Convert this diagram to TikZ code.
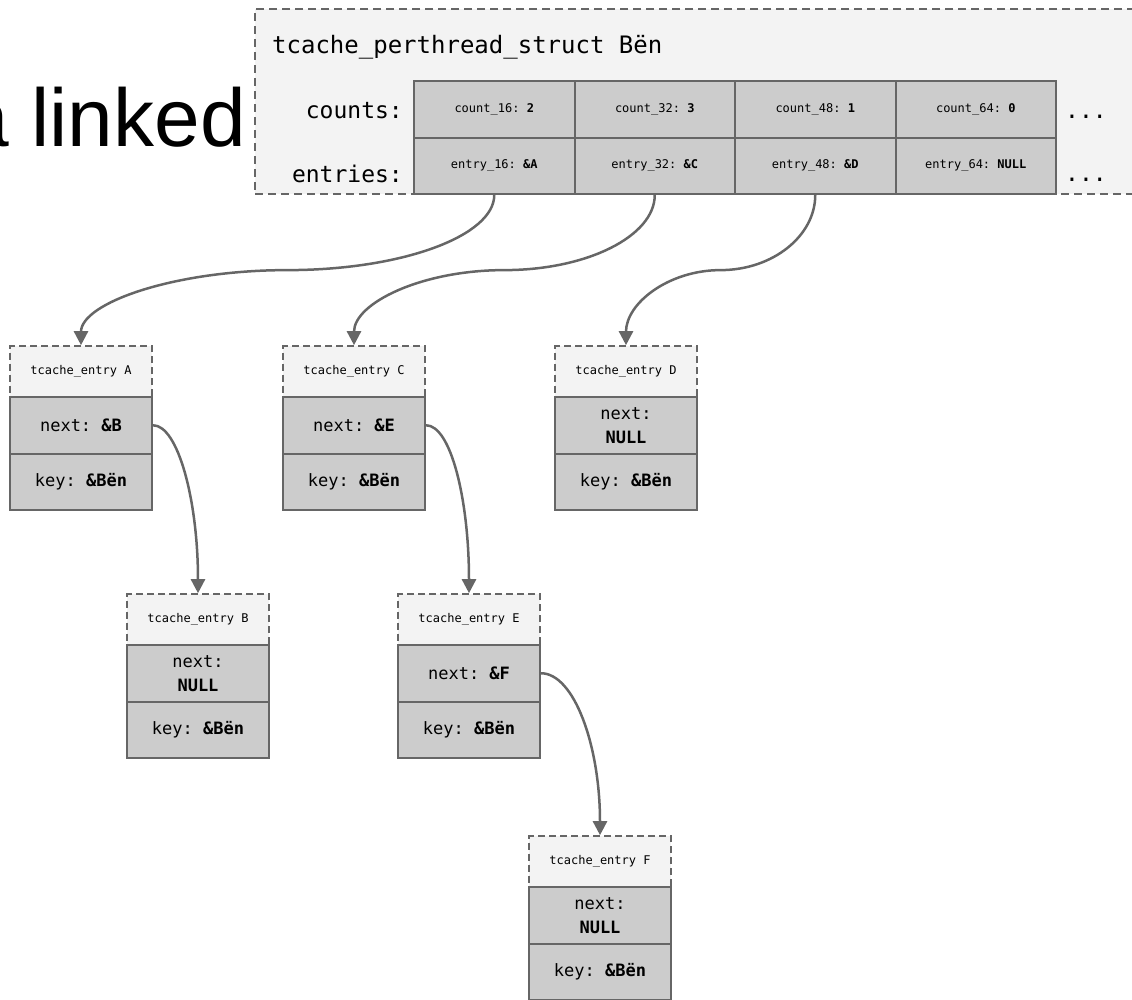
\documentclass[tikz,border=0pt]{standalone}
\usepackage{fontspec}
\setmainfont{Liberation Sans}
\setmonofont{DejaVu Sans Mono}
\usetikzlibrary{arrows.meta,calc}

\definecolor{edgegray}{HTML}{666666}
\definecolor{cellgray}{HTML}{CCCCCC}
\definecolor{palegray}{HTML}{F3F3F3}

\tikzset{
  mono/.style={font=\ttfamily\fontsize{#1}{#1}\selectfont},
  structbox/.style={draw=edgegray, fill=palegray, line width=1.6pt,
    dash pattern=on 8pt off 5pt, minimum width=900pt, minimum height=185pt, inner sep=0pt},
  gridcell/.style={draw=edgegray, fill=cellgray, line width=2pt, inner sep=0pt,
    minimum width=160.5pt, minimum height=56.5pt, mono=12},
  hdrbox/.style={draw=edgegray, fill=palegray, line width=1.6pt,
    dash pattern=on 7pt off 4pt, inner sep=0pt,
    minimum width=142pt, minimum height=50.5pt, mono=12},
  nextbox/.style={draw=edgegray, fill=cellgray, line width=2pt, inner sep=0pt,
    minimum width=142pt, minimum height=57.5pt, align=center,
    font=\ttfamily\fontsize{17}{24}\selectfont},
  keybox/.style={draw=edgegray, fill=cellgray, line width=2pt, inner sep=0pt,
    minimum width=142pt, minimum height=56pt, mono=17},
  link/.style={draw=edgegray, line width=2.5pt,
    -{Triangle[length=14pt,width=14pt]}},
}

% one tcache_entry: name, left x, top y, letter, contents of the next field
\newcommand\tcentry[5]{%
  \node[hdrbox]  (#1-h) at (#2+71, #3+25.25)  {tcache\_entry #4};
  \node[nextbox] (#1-n) at (#2+71, #3+79.25)  {#5};
  \node[keybox]  (#1-k) at (#2+71, #3+136)    {key: \textbf{\&Bën}};
}

\begin{document}
\begin{tikzpicture}[x=1pt,y=-1pt]
\useasboundingbox (0,0) rectangle (1132,999);

% heading text partly hidden behind the struct
\node[anchor=base east, inner sep=0pt, font=\fontsize{82}{82}\selectfont]
  (heading) at (246,146) {a linked};

% tcache_perthread_struct
\node[structbox] (ptc) at (705,101.5) {};
\node[anchor=base west, inner sep=0pt, mono=24] (ptctitle) at (272,53)
  {tcache\_perthread\_struct Bën};
\node[anchor=base east, inner sep=0pt, mono=23] (countslbl) at (403,118) {counts:};
\node[anchor=base east, inner sep=0pt, mono=23] (entrieslbl) at (403,182) {entries:};

\node[gridcell] (c16) at (494.25,109.25) {count\_16: \textbf{2}};
\node[gridcell] (c32) at (654.75,109.25) {count\_32: \textbf{3}};
\node[gridcell] (c48) at (815.25,109.25) {count\_48: \textbf{1}};
\node[gridcell] (c64) at (975.75,109.25) {count\_64: \textbf{0}};
\node[gridcell] (e16) at (494.25,165.75) {entry\_16: \textbf{\&A}};
\node[gridcell] (e32) at (654.75,165.75) {entry\_32: \textbf{\&C}};
\node[gridcell] (e48) at (815.25,165.75) {entry\_48: \textbf{\&D}};
\node[gridcell] (e64) at (975.75,165.75) {entry\_64: \textbf{NULL}};

\node[anchor=base, inner sep=0pt, mono=23] (cdots) at (1086,118) {...};
\node[anchor=base, inner sep=0pt, mono=23] (edots) at (1086,181) {...};

% entries
\tcentry{A}{10}{346}{A}{next: \textbf{\&B}}
\tcentry{C}{283}{346}{C}{next: \textbf{\&E}}
\tcentry{D}{555}{346}{D}{next:\\\textbf{NULL}}
\tcentry{B}{127}{594}{B}{next:\\\textbf{NULL}}
\tcentry{E}{398}{594}{E}{next: \textbf{\&F}}
\tcentry{F}{529}{836}{F}{next:\\\textbf{NULL}}

% bins to their first entries
\coordinate (m1) at ($(e16.south)!0.5!(A-h.north)$);
\coordinate (m2) at ($(e32.south)!0.5!(C-h.north)$);
\coordinate (m3) at ($(e48.south)!0.5!(D-h.north)$);
\draw[link] (e16.south) .. controls +(0,41) and +(114,0) .. (m1)
  .. controls +(-114,0) and +(0,-42) .. (A-h.north);
\draw[link] (e32.south) .. controls +(0,41) and +(83,0) .. (m2)
  .. controls +(-83,0) and +(0,-42) .. (C-h.north);
\draw[link] (e48.south) .. controls +(0,41) and +(52,0) .. (m3)
  .. controls +(-52,0) and +(0,-42) .. (D-h.north);

% next pointers
\draw[link] (A-n.east) .. controls +(25,0) and +(0,-93) .. (B-h.north);
\draw[link] (C-n.east) .. controls +(25,0) and +(0,-93) .. (E-h.north);
\draw[link] (E-n.east) .. controls +(33,0) and +(0,-90) .. (F-h.north);
\end{tikzpicture}
\end{document}
